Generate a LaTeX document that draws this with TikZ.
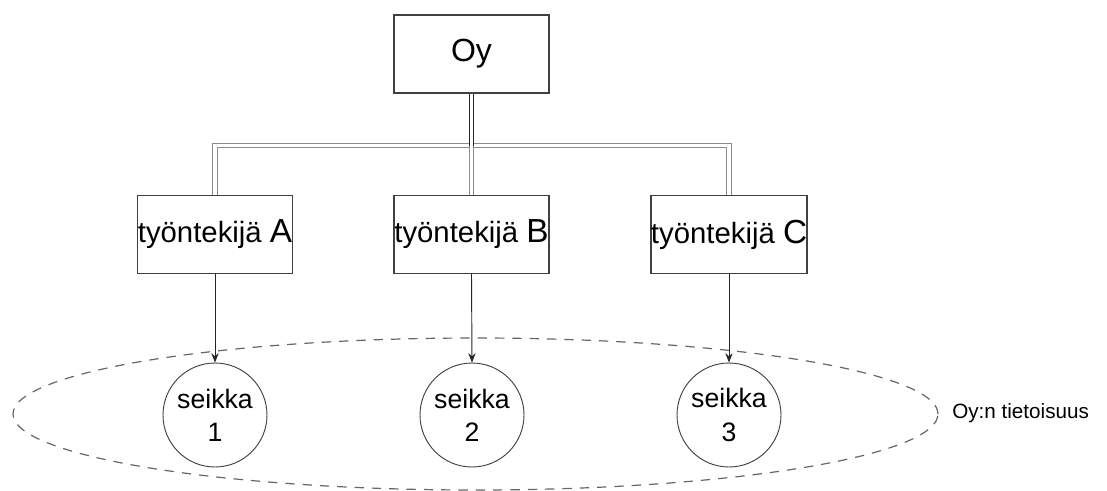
\documentclass[tikz,border=0pt]{standalone}
\usepackage{fontspec}
\setmainfont{Liberation Sans}
\usetikzlibrary{arrows.meta,shapes.geometric}
\newcommand{\wletter}[1]{{\fontsize{25}{28}\selectfont #1}}
\begin{document}
\begin{tikzpicture}[x=0.75pt,y=-0.75pt,
  box/.style={draw=black!75,line width=0.9pt,minimum width=116.25pt,minimum height=58.5pt,inner sep=0pt},
  worker/.style={box,font=\fontsize{22}{26}\selectfont},
  fact/.style={circle,draw=black!75,line width=0.7pt,minimum size=78pt,inner sep=0pt,align=center,font=\fontsize{20}{25}\selectfont},
  branch/.style={draw=black!45,line width=0.8pt,double=white,double distance=2.6pt},
  trunk/.style={draw=black!85,line width=0.8pt,double=white,double distance=2.6pt},
  arr/.style={draw=black!85,line width=0.7pt,-{Stealth[length=7pt,width=5.5pt]}},
  aware/.style={draw=black!60,line width=0.9pt,dash pattern=on 7pt off 6pt}]
\useasboundingbox (0,0) rectangle (1107,490);
\node[box,font=\fontsize{24}{28}\selectfont] (oy) at (471.5,54) {Oy};
\node[worker] (a) at (215,234.5) {työntekijä \wletter{A}};
\node[worker] (b) at (471.5,234.5) {työntekijä \wletter{B}};
\node[worker] (c) at (729,234.5) {työntekijä \wletter{C}};
\coordinate (j) at (471.5,145.5);
\draw[branch] (oy.south) -- (j) -| (a.north);
\draw[branch] (oy.south) -- (j) -| (c.north);
\draw[branch] (oy.south) -- (b.north);
\draw[trunk] (oy.south) -- (j);
\node[aware,ellipse,minimum width=693.75pt,minimum height=114pt,inner sep=0pt,outer sep=0pt] (e) at (475.5,414) {};
\node[fact] (s1) at (215,415) {seikka\\1};
\node[fact] (s2) at (472,415) {seikka\\2};
\node[fact] (s3) at (729,415) {seikka\\3};
\draw[arr] (a.south) -- (s1.north);
\draw[arr] (b.south) -- (s2.north);
\draw[arr] (c.south) -- (s3.north);
\node[anchor=west,inner sep=0pt,font=\fontsize{15.5}{18}\selectfont] (lab) at (952,413) {Oy:n tietoisuus};
\end{tikzpicture}
\end{document}
